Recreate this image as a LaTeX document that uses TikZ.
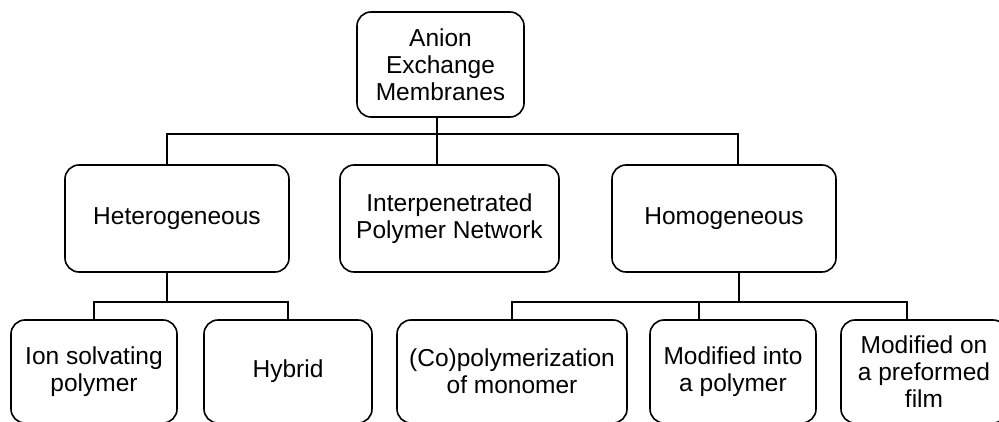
\documentclass[tikz,border=0pt]{standalone}
\usepackage{fontspec}
\setmainfont{Liberation Sans}
\begin{document}
\begin{tikzpicture}[x=1pt,y=-1pt,
  box/.style={draw, line width=1.6pt, rounded corners=14pt, align=center, inner sep=0pt,
    font=\fontsize{24.5}{27}\selectfont},
  conn/.style={line width=1.6pt}]
\useasboundingbox (0,0) rectangle (999,422);
\node[box, minimum width=167pt, minimum height=105pt] (top) at (440.5,64.5) {Anion\\Exchange\\Membranes};
\node[box, minimum width=224pt, minimum height=107pt] (het) at (177,218.5) {Heterogeneous};
\node[box, minimum width=219pt, minimum height=107pt] (ipn) at (449.5,218.5) {Interpenetrated\\Polymer Network};
\node[box, minimum width=224pt, minimum height=107pt] (hom) at (724,218.5) {Homogeneous};
\node[box, minimum width=166pt, minimum height=103pt] (ion) at (94,371.5) {Ion solvating\\polymer};
\node[box, minimum width=168pt, minimum height=103pt] (hyb) at (288,371.5) {Hybrid};
\node[box, minimum width=230pt, minimum height=103pt] (co) at (512,371.5) {(Co)polymerization\\of monomer};
\node[box, minimum width=166pt, minimum height=103pt] (into) at (733,371.5) {Modified into\\a polymer};
\node[box, minimum width=166pt, minimum height=103pt] (on) at (924,371.5) {Modified on\\a preformed\\film};
% level 1 connectors
\coordinate (j0) at (437,134);
\coordinate (j1) at (167,134);
\coordinate (j2) at (738,134);
\draw[conn] (j0 |- top.south) -- (j0 |- ipn.north);
\draw[conn] (j1 |- het.north) -- (j1) -- (j2) -- (j2 |- hom.north);
% heterogeneous children
\coordinate (b0) at (167,302);
\draw[conn] (b0 |- het.south) -- (b0);
\draw[conn] (ion.north) -- (ion.north |- b0) -- (hyb.north |- b0) -- (hyb.north);
% homogeneous children
\coordinate (c0) at (739,302);
\coordinate (c2) at (699,302);
\coordinate (c3) at (907,302);
\draw[conn] (c0 |- hom.south) -- (c0);
\draw[conn] (co.north) -- (co.north |- c0) -- (c3) -- (c3 |- on.north);
\draw[conn] (c2) -- (c2 |- into.north);
\end{tikzpicture}
\end{document}
